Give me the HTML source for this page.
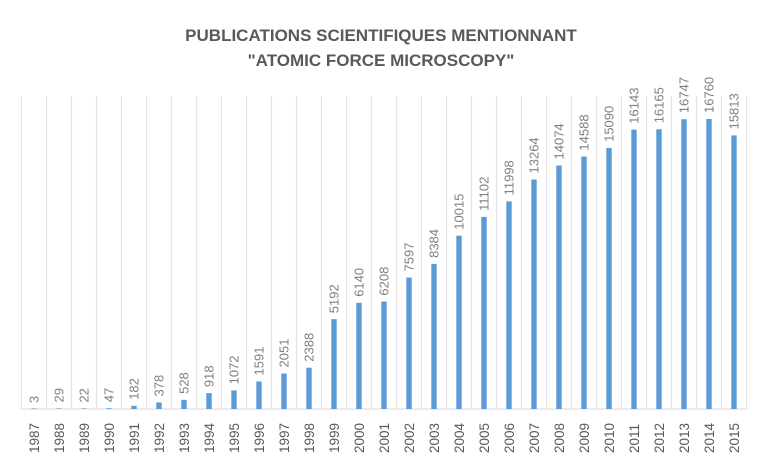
<!DOCTYPE html>
<html><head><meta charset="utf-8"><style>
body{margin:0;background:#fff;}
svg{display:block;font-family:"Liberation Sans",sans-serif;}
.v{font-size:13px;fill:#7f7f7f;}
.y{font-size:13.5px;fill:#595959;}
.b{fill:#5b9bd5;}
.gl{stroke:#e3e3e3;stroke-width:1.2;}
</style></head><body>
<svg width="760" height="461" viewBox="0 0 760 461" xmlns="http://www.w3.org/2000/svg">
<text x="381" y="41" text-anchor="middle" font-size="17" font-weight="bold" fill="#595959">PUBLICATIONS SCIENTIFIQUES MENTIONNANT</text>
<text x="381" y="66" text-anchor="middle" font-size="17" font-weight="bold" fill="#595959">"ATOMIC FORCE MICROSCOPY"</text>
<g>
<line class="gl" x1="21.5" y1="96" x2="21.5" y2="409"/><line class="gl" x1="46.5" y1="96" x2="46.5" y2="409"/><line class="gl" x1="71.5" y1="96" x2="71.5" y2="409"/><line class="gl" x1="96.5" y1="96" x2="96.5" y2="409"/><line class="gl" x1="121.5" y1="96" x2="121.5" y2="409"/><line class="gl" x1="146.5" y1="96" x2="146.5" y2="409"/><line class="gl" x1="171.5" y1="96" x2="171.5" y2="409"/><line class="gl" x1="196.5" y1="96" x2="196.5" y2="409"/><line class="gl" x1="221.5" y1="96" x2="221.5" y2="409"/><line class="gl" x1="246.5" y1="96" x2="246.5" y2="409"/><line class="gl" x1="271.5" y1="96" x2="271.5" y2="409"/><line class="gl" x1="296.5" y1="96" x2="296.5" y2="409"/><line class="gl" x1="321.5" y1="96" x2="321.5" y2="409"/><line class="gl" x1="346.5" y1="96" x2="346.5" y2="409"/><line class="gl" x1="371.5" y1="96" x2="371.5" y2="409"/><line class="gl" x1="396.5" y1="96" x2="396.5" y2="409"/><line class="gl" x1="421.5" y1="96" x2="421.5" y2="409"/><line class="gl" x1="446.5" y1="96" x2="446.5" y2="409"/><line class="gl" x1="471.5" y1="96" x2="471.5" y2="409"/><line class="gl" x1="496.5" y1="96" x2="496.5" y2="409"/><line class="gl" x1="521.5" y1="96" x2="521.5" y2="409"/><line class="gl" x1="546.5" y1="96" x2="546.5" y2="409"/><line class="gl" x1="571.5" y1="96" x2="571.5" y2="409"/><line class="gl" x1="596.5" y1="96" x2="596.5" y2="409"/><line class="gl" x1="621.5" y1="96" x2="621.5" y2="409"/><line class="gl" x1="646.5" y1="96" x2="646.5" y2="409"/><line class="gl" x1="671.5" y1="96" x2="671.5" y2="409"/><line class="gl" x1="696.5" y1="96" x2="696.5" y2="409"/><line class="gl" x1="721.5" y1="96" x2="721.5" y2="409"/><line class="gl" x1="746.5" y1="96" x2="746.5" y2="409"/>
<line x1="21" y1="409" x2="747" y2="409" stroke="#d9d9d9" stroke-width="1"/>
</g>
<g>
<rect class="b" x="31.3" y="408.4" width="5.4" height="0.6"/>
<rect class="b" x="56.3" y="408.4" width="5.4" height="0.6"/>
<rect class="b" x="81.3" y="408.4" width="5.4" height="0.6"/>
<rect class="b" x="106.3" y="408.2" width="5.4" height="0.8"/>
<rect class="b" x="131.3" y="405.85" width="5.4" height="3.15"/>
<rect class="b" x="156.3" y="402.46" width="5.4" height="6.54"/>
<rect class="b" x="181.3" y="399.86" width="5.4" height="9.14"/>
<rect class="b" x="206.3" y="393.12" width="5.4" height="15.88"/>
<rect class="b" x="231.3" y="390.45" width="5.4" height="18.55"/>
<rect class="b" x="256.3" y="381.47" width="5.4" height="27.53"/>
<rect class="b" x="281.3" y="373.51" width="5.4" height="35.49"/>
<rect class="b" x="306.3" y="367.68" width="5.4" height="41.32"/>
<rect class="b" x="331.3" y="319.16" width="5.4" height="89.84"/>
<rect class="b" x="356.3" y="302.76" width="5.4" height="106.24"/>
<rect class="b" x="381.3" y="301.58" width="5.4" height="107.42"/>
<rect class="b" x="406.3" y="277.55" width="5.4" height="131.45"/>
<rect class="b" x="431.3" y="263.93" width="5.4" height="145.07"/>
<rect class="b" x="456.3" y="235.71" width="5.4" height="173.29"/>
<rect class="b" x="481.3" y="216.9" width="5.4" height="192.1"/>
<rect class="b" x="506.3" y="201.4" width="5.4" height="207.6"/>
<rect class="b" x="531.3" y="179.49" width="5.4" height="229.51"/>
<rect class="b" x="556.3" y="165.48" width="5.4" height="243.52"/>
<rect class="b" x="581.3" y="156.58" width="5.4" height="252.42"/>
<rect class="b" x="606.3" y="147.9" width="5.4" height="261.1"/>
<rect class="b" x="631.3" y="129.68" width="5.4" height="279.32"/>
<rect class="b" x="656.3" y="129.3" width="5.4" height="279.7"/>
<rect class="b" x="681.3" y="119.22" width="5.4" height="289.78"/>
<rect class="b" x="706.3" y="119" width="5.4" height="290"/>
<rect class="b" x="731.3" y="135.39" width="5.4" height="273.61"/>
</g>
<g>
<text class="v" transform="translate(38.5,403) rotate(-90)">3</text>
<text class="v" transform="translate(63.5,402.5) rotate(-90)">29</text>
<text class="v" transform="translate(88.5,402.6) rotate(-90)">22</text>
<text class="v" transform="translate(113.5,402.2) rotate(-90)">47</text>
<text class="v" transform="translate(138.5,399.8) rotate(-90)">182</text>
<text class="v" transform="translate(163.5,396.5) rotate(-90)">378</text>
<text class="v" transform="translate(188.5,393.9) rotate(-90)">528</text>
<text class="v" transform="translate(213.5,387.1) rotate(-90)">918</text>
<text class="v" transform="translate(238.5,384.4) rotate(-90)">1072</text>
<text class="v" transform="translate(263.5,375.5) rotate(-90)">1591</text>
<text class="v" transform="translate(288.5,367.5) rotate(-90)">2051</text>
<text class="v" transform="translate(313.5,361.7) rotate(-90)">2388</text>
<text class="v" transform="translate(338.5,313.2) rotate(-90)">5192</text>
<text class="v" transform="translate(363.5,296.8) rotate(-90)">6140</text>
<text class="v" transform="translate(388.5,295.6) rotate(-90)">6208</text>
<text class="v" transform="translate(413.5,271.5) rotate(-90)">7597</text>
<text class="v" transform="translate(438.5,257.9) rotate(-90)">8384</text>
<text class="v" transform="translate(463.5,229.7) rotate(-90)">10015</text>
<text class="v" transform="translate(488.5,210.9) rotate(-90)">11102</text>
<text class="v" transform="translate(513.5,195.4) rotate(-90)">11998</text>
<text class="v" transform="translate(538.5,173.5) rotate(-90)">13264</text>
<text class="v" transform="translate(563.5,159.5) rotate(-90)">14074</text>
<text class="v" transform="translate(588.5,150.6) rotate(-90)">14588</text>
<text class="v" transform="translate(613.5,141.9) rotate(-90)">15090</text>
<text class="v" transform="translate(638.5,123.7) rotate(-90)">16143</text>
<text class="v" transform="translate(663.5,123.3) rotate(-90)">16165</text>
<text class="v" transform="translate(688.5,113.2) rotate(-90)">16747</text>
<text class="v" transform="translate(713.5,113) rotate(-90)">16760</text>
<text class="v" transform="translate(738.5,129.4) rotate(-90)">15813</text>
</g>
<g>
<text class="y" transform="translate(39,453) rotate(-90)">1987</text>
<text class="y" transform="translate(64,453) rotate(-90)">1988</text>
<text class="y" transform="translate(89,453) rotate(-90)">1989</text>
<text class="y" transform="translate(114,453) rotate(-90)">1990</text>
<text class="y" transform="translate(139,453) rotate(-90)">1991</text>
<text class="y" transform="translate(164,453) rotate(-90)">1992</text>
<text class="y" transform="translate(189,453) rotate(-90)">1993</text>
<text class="y" transform="translate(214,453) rotate(-90)">1994</text>
<text class="y" transform="translate(239,453) rotate(-90)">1995</text>
<text class="y" transform="translate(264,453) rotate(-90)">1996</text>
<text class="y" transform="translate(289,453) rotate(-90)">1997</text>
<text class="y" transform="translate(314,453) rotate(-90)">1998</text>
<text class="y" transform="translate(339,453) rotate(-90)">1999</text>
<text class="y" transform="translate(364,453) rotate(-90)">2000</text>
<text class="y" transform="translate(389,453) rotate(-90)">2001</text>
<text class="y" transform="translate(414,453) rotate(-90)">2002</text>
<text class="y" transform="translate(439,453) rotate(-90)">2003</text>
<text class="y" transform="translate(464,453) rotate(-90)">2004</text>
<text class="y" transform="translate(489,453) rotate(-90)">2005</text>
<text class="y" transform="translate(514,453) rotate(-90)">2006</text>
<text class="y" transform="translate(539,453) rotate(-90)">2007</text>
<text class="y" transform="translate(564,453) rotate(-90)">2008</text>
<text class="y" transform="translate(589,453) rotate(-90)">2009</text>
<text class="y" transform="translate(614,453) rotate(-90)">2010</text>
<text class="y" transform="translate(639,453) rotate(-90)">2011</text>
<text class="y" transform="translate(664,453) rotate(-90)">2012</text>
<text class="y" transform="translate(689,453) rotate(-90)">2013</text>
<text class="y" transform="translate(714,453) rotate(-90)">2014</text>
<text class="y" transform="translate(739,453) rotate(-90)">2015</text>
</g>
</svg>
</body></html>
